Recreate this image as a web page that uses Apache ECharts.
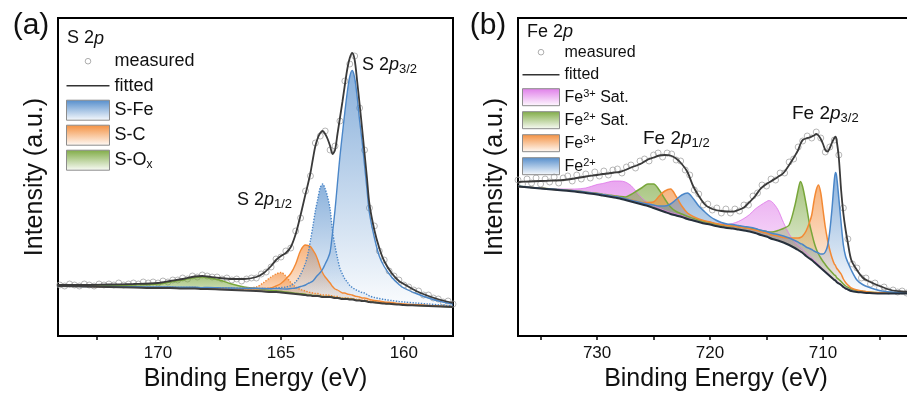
<!DOCTYPE html>
<html><head><meta charset="utf-8">
<script src="https://cdn.jsdelivr.net/npm/echarts@6/dist/echarts.min.js"></script>
<style>html,body{margin:0;padding:0;background:#fff}#c{width:907px;height:396px}</style>
</head><body><div id="c"></div>
<script>
// ---------------- Panel (a): S 2p ----------------
const energyA = [174.1,173,172,171,170,169.5,169,168.5,168.2,168,167.5,167,166.5,166,165.7,165.4,165.2,165,164.8,164.6,164.4,164.2,164,163.9,163.8,163.7,163.6,163.5,163.4,163.3,163.2,163.1,163,162.9,162.8,162.7,162.6,162.5,162.4,162.3,162.2,162.1,162,161.9,161.8,161.7,161.6,161.5,161.4,161.2,161,160.8,160.5,160.2,160,159.5,159,158.5,158];
const backgroundA = [50,49.5,49,48.5,48,48,47.5,47.5,47,47,46.5,46,45.5,45,44.5,44,44,43.5,43,42.5,42,41.5,41,40.5,40.5,40,40,40,39.5,39,39,39,39,38.5,38,38,37.5,37,37,37,36.5,36.5,36,35.5,35.5,35,35,34.5,34,33.5,33,32.5,32,31.5,31,30.5,30,29.5,29];
const sFe32A = [0,0.3,0.5,0.7,1,1,1.2,1.3,1.4,1.5,1.7,2,2.3,2.7,3,3.3,3.5,3.7,4,5,6,8,10,12,13,15,18,21,24,28,33,38,45,65,88,115,142,165,187,207,223,229,222,204,180,160,136,112,89,65,47,37,27,20,17,12,8,5,3];
const sFe12A = [0,0,0.3,0.5,0.7,0.8,1,1.1,1.2,1.3,1.5,1.7,2,2.5,3,3.5,4,5,6,8,12,20,32,42,55,70,85,97,109,113,108,100,88,66,52,40,30,25,20,17,14,12,11,10,9,8.5,8,7,6,5,4.5,4,3.5,3,3,2.5,2,1.5,1];
const sC32A = [0,0.2,0.3,0.4,0.5,0.6,0.7,0.8,0.9,1,1.2,1.4,1.8,2.2,3,4,6,9,14,20,30,44,50,50,49,46,42,36,29,24,20,17,14,11,9,8,7,6,6,5,5,4.5,4,4,3.5,3,3,3,2.5,2,2,1.5,1.5,1,1,0.8,0.6,0.4,0.3];
const sC12A = [0,0.2,0.3,0.5,0.6,0.7,0.8,1,1,1.1,1.4,1.8,2.5,4,9,15,18,20,17,11,7,5,4,3.5,3,3,2.5,2.5,2,2,2,2,1.5,1.5,1.5,1.5,1,1,1,1,1,1,1,1,1,1,1,1,1,0.7,0.7,0.7,0.7,0.7,0.7,0.5,0.5,0.5,0.5];
const sOxA = [0.5,1,1.5,2.5,4,6,8.5,11,12,11.5,9.5,6,3.5,2.5,2,1.5,1.3,1.2,1,1,0.8,0.8,0.7,0.6,0.6,0.6,0.6,0.5,0.5,0.5,0.5,0.5,0.5,0.5,0.5,0.5,0.5,0.5,0.5,0.5,0.5,0.5,0.5,0.3,0.3,0.3,0.3,0.3,0.3,0.3,0.3,0.3,0.3,0.3,0.3,0.2,0.2,0.2,0.2];
const fittedA = [51,51,51.5,52,53,55,57,59.5,60,59.5,58,57,57,59,63,70,76,80,83,89,102,121,142,152,163,177,190,198,203,205,202,197,190,182,186,202,218,234,251,267,278,283,276,255,232,208,183,158,132,106,88,75,63,55,52,45,40,36,33];
const measuredEA = [174,173.8,173.6,173.4,173.2,173,172.8,172.6,172.4,172.2,172,171.8,171.6,171.4,171.2,171,170.8,170.6,170.4,170.2,170,169.8,169.6,169.4,169.2,169,168.8,168.6,168.4,168.2,168,167.8,167.6,167.4,167.2,167,166.8,166.6,166.4,166.2,166,165.8,165.6,165.4,165.2,165,164.8,164.6,164.4,164.2,164,163.8,163.6,163.4,163.2,163,162.8,162.6,162.4,162.2,162,161.8,161.6,161.4,161.2,161,160.8,160.6,160.4,160.2,160,159.8,159.6,159.4,159.2,159,158.8,158.6,158.4,158.2,158];
const measuredIA = [51,50,52,51,50,52,51,50,52,51,52,51,53,51,52,53,52,54,53,54,53,55,54,56,56,58,57,60,59,61,60,59,59,57,58,56,57,55,57,58,58,62,64,69,77,79,85,88,105,118,145,160,193,200,205,186,190,215,255,272,280,228,186,128,110,85,76,65,60,56,51,49,46,45,41,41,38,37,34,35,32];
const tickValuesA = [172.5,170,167.5,165,162.5,160];
const labelValuesA = [170,165,160];

// ---------------- Panel (b): Fe 2p ----------------
const energyB = [737,736,735,734,733,732,731,730,729.5,729,728.5,728,727.5,727,726.5,726,725.5,725,724.5,724,723.5,723,722.5,722,721.5,721,720.5,720,719.5,719,718.5,718,717.5,717,716.5,716,715.5,715,714.8,714.5,714,713.5,713,712.5,712.2,712,711.8,711.5,711.2,711,710.8,710.6,710.4,710.2,710,709.8,709.6,709.4,709.2,709,708.9,708.8,708.6,708.4,708.2,708,707.8,707.5,707,706.5,706,705,704,703,702,701,700];
const backgroundB = [149.5,148.5,147.5,146.5,145.5,144.5,143,141.5,140.5,139.5,138.5,137.5,136,134.5,133,131.5,130,128,126,124,122,120.5,119,117,115.5,114,112.5,111.5,110,109,108,107.5,106.5,105.5,104.5,103,101,99.5,98.5,97,95.5,93.5,91,88,86,84.5,83,80,77.5,76,74,72,70,68,66,64,62,60,58,56,55.5,54,52.5,51,49,47.5,46.5,45,44,43.5,43,42.5,42.5,42.5,42.5,42.5,42.5];
const fe3SatB = [0.2,0.3,0.5,0.8,1.5,2.5,5,10,12,14.5,16.5,17.5,18,16,11,6,3.5,2.5,2,1.5,1.5,1.5,1.5,1.5,1.5,2,2,2.5,2.5,3,3.5,5,8,12,17,24,30,35,37,37,31,20,11,6,4.5,4,3.5,3,2.5,2,2,1.8,1.6,1.4,1.2,1.1,1,1,0.9,0.8,0.8,0.8,0.7,0.7,0.6,0.6,0.5,0.5,0.4,0.4,0.3,0.3,0.2,0.2,0.1,0.1,0.1];
const fe2SatB = [0.2,0.3,0.4,0.5,0.7,0.8,1,1.2,1.3,1.5,1.8,2,3,7,12,17,22,24,20,13,7,4,3,2.5,2.2,2,2,2,2,2,2.2,2.5,2.8,3,3.5,4,4.5,5,5.5,7,10,14,20,42,60,70,66,52,35,27,20,15,12,10,8.5,7.5,6.5,6,5.5,5,5,4.5,4,3.5,3,2.5,2.2,2,1.5,1.2,1,0.7,0.5,0.4,0.3,0.2,0.2];
const fe3B = [0.1,0.2,0.3,0.3,0.4,0.5,0.6,0.7,0.8,0.9,1,1.1,1.3,1.5,1.8,2,3.5,6,14,21,25,19,11,6,4,3,2.8,2.5,2.5,2.5,2.5,2.5,2.6,2.7,2.8,3,3.2,3.5,3.7,4,4.5,5,7,10,12,14,17,25,36,45,61,74,81,75,60,45,34,26,20,16,15,14,12.5,11,8,6,4.5,3,2,1.5,1,0.7,0.5,0.4,0.3,0.2,0.2];
const fe2B = [0.2,0.3,0.3,0.4,0.5,0.6,0.7,0.8,0.9,1,1,1.1,1.2,1.3,1.4,1.5,2,3,4,6,10,16,22,26,22,16,12,8,6,4.5,4,4,4,4,4.2,4.5,4.7,5,5.2,5.5,6,6.5,7,7.5,7.8,8,8.5,9,10,10.5,11,12,13,14,16,20,28,45,70,100,108,106,85,62,42,32,27,21,12,8,6,3,1.5,1,0.5,0.3,0.2];
const fittedB = [154,154.5,155,155.3,156,157.5,159.5,161,162,162.5,163.5,164,166,168.5,170.5,173,176.5,178.5,180.5,181,180.5,177.5,172,164,150,140,132,128,126,125,124.5,124.3,126,128.5,134,140,147.7,152,153.5,155.5,159,163,171,180,186,192,196,197.5,198.5,199.5,200.5,202,200.5,197,192,186,184.5,188,193.5,198,199.3,196,178,146,122.7,106,93,76,66,58.5,55,50,46,44.5,44,43.5,43];
const measuredEB = [737,736.6,736.2,735.8,735.4,735,734.6,734.2,733.8,733.4,733,732.6,732.2,731.8,731.4,731,730.6,730.2,729.8,729.4,729,728.6,728.2,727.8,727.4,727,726.6,726.2,725.8,725.4,725,724.6,724.2,723.8,723.4,723,722.6,722.2,721.8,721.4,721,720.6,720.2,719.8,719.4,719,718.6,718.2,717.8,717.4,717,716.6,716.2,715.8,715.4,715,714.6,714.2,713.8,713.4,713,712.6,712.2,711.8,711.4,711,710.6,710.2,709.8,709.4,709,708.6,708.2,707.8,707.4,707,706.6,706.2,705.8,705.4,705,704.6,704.2,703.8,703.4,703,702.6,702.2,701.8,701.4,701,700.6,700.2];
const measuredIB = [156,152,157,153,158,152,157,154,159,153,158,160,155,161,157,162,158,164,160,165,161,166,167,163,169,171,168,175,177,175,181,183,179,183,182,176,175,166,161,146,142,131,132,126,128,123,127,123,127,125,131,131,140,143,151,150,157,156,163,163,174,177,189,195,200,198,204,198,184,189,196,181,128,97,72,68,58,58,52,53,48,49,45,46,44,45,43,44,43,44,42,43,42];
const tickValuesB = [735,730,725,720,715,710,705];
const labelValuesB = [730,720,710];

// ---------------- styling ----------------
const FONT = '"Liberation Sans", Arial, Helvetica, sans-serif';
const BLUE = [74,134,200], ORANGE = [243,137,52], GREEN = [120,166,58], MAGENTA = [222,118,232];
function rgba(c, a) { return 'rgba(' + c[0] + ',' + c[1] + ',' + c[2] + ',' + a + ')'; }
function grad(c, a0, a1) {
  return new echarts.graphic.LinearGradient(0, 0, 0, 1, [
    { offset: 0, color: rgba(c, a0) }, { offset: 1, color: rgba(c, a1) }]);
}
function pairs(xs, ys) { return xs.map(function (x, i) { return [x, ys[i]]; }); }
// [intensity, energy] rows so that the stacked dimension is the intensity (column 0)
function rowsYX(xs, ys) { return xs.map(function (x, i) { return [ys[i], x]; }); }
const SM = 0.3;

function component(g, id, xs, base, comp, name, c, dotted, lw) {
  return [
    { type: 'line', name: '_base_' + id, xAxisIndex: g, yAxisIndex: g, stack: id,
      encode: { x: 1, y: 0 }, dimensions: ['intensity', 'energy'],
      data: rowsYX(xs, base), symbol: 'none', smooth: SM, silent: true,
      lineStyle: { width: 0, opacity: 0 } },
    { type: 'line', name: name, xAxisIndex: g, yAxisIndex: g, stack: id,
      encode: { x: 1, y: 0 }, dimensions: ['intensity', 'energy'],
      data: rowsYX(xs, comp), symbol: 'none', smooth: SM, silent: true,
      itemStyle: { color: rgba(c, 1) },
      lineStyle: { color: rgba(c, 1), width: lw == null ? 1.4 : lw, type: dotted ? 'dotted' : 'solid' },
      areaStyle: { color: grad(c, 0.92, 0.04) } }
  ];
}

const series = [].concat(
  component(0, 'ox', energyA, backgroundA, sOxA, 'S-Ox', GREEN, false),
  component(0, 'c12', energyA, backgroundA, sC12A, 'S-C', ORANGE, true),
  component(0, 'c32', energyA, backgroundA, sC32A, 'S-C', ORANGE, false),
  component(0, 'fe12', energyA, backgroundA, sFe12A, 'S-Fe', BLUE, true),
  component(0, 'fe32', energyA, backgroundA, sFe32A, 'S-Fe', BLUE, false),
  [
    { type: 'line', name: 'background', xAxisIndex: 0, yAxisIndex: 0, data: pairs(energyA, backgroundA),
      symbol: 'none', smooth: SM, silent: true, lineStyle: { color: '#3f3f3f', width: 2 } },
    { type: 'scatter', name: 'measured', xAxisIndex: 0, yAxisIndex: 0, data: pairs(measuredEA, measuredIA),
      symbol: 'circle', symbolSize: 6, silent: true,
      itemStyle: { color: 'rgba(255,255,255,0)', borderColor: '#a5a5a5', borderWidth: 1 } },
    { type: 'line', name: 'fitted', xAxisIndex: 0, yAxisIndex: 0, data: pairs(energyA, fittedA),
      symbol: 'none', smooth: SM, silent: true, itemStyle: { color: '#3a3a3a' },
      lineStyle: { color: '#3a3a3a', width: 1.8 } }
  ],
  component(1, 'f3s', energyB, backgroundB, fe3SatB, 'Fe3+ Sat.', MAGENTA, false, 0.8),
  component(1, 'f2s', energyB, backgroundB, fe2SatB, 'Fe2+ Sat.', GREEN, false, 1.5),
  component(1, 'f3', energyB, backgroundB, fe3B, 'Fe3+', ORANGE, false, 1.5),
  component(1, 'f2', energyB, backgroundB, fe2B, 'Fe2+', BLUE, false, 1.5),
  [
    { type: 'line', name: 'backgroundB', xAxisIndex: 1, yAxisIndex: 1, data: pairs(energyB, backgroundB),
      symbol: 'none', smooth: SM, silent: true, lineStyle: { color: '#26303c', width: 2 } },
    { type: 'scatter', name: 'measured', xAxisIndex: 1, yAxisIndex: 1, data: pairs(measuredEB, measuredIB),
      symbol: 'circle', symbolSize: 6, silent: true,
      itemStyle: { color: 'rgba(255,255,255,0)', borderColor: '#a5a5a5', borderWidth: 1 } },
    { type: 'line', name: 'fitted', xAxisIndex: 1, yAxisIndex: 1, data: pairs(energyB, fittedB),
      symbol: 'none', smooth: SM, silent: true, itemStyle: { color: '#3a3a3a' },
      lineStyle: { color: '#3a3a3a', width: 1.8 } }
  ]
);

function xAxisCfg(g, min, max, ticks, labels, namePad) {
  return {
    gridIndex: g, type: 'value', min: min, max: max, inverse: true,
    axisLine: { show: true, onZero: false, lineStyle: { color: '#000', width: 2 } },
    axisTick: { show: true, inside: false, length: 4, customValues: ticks, lineStyle: { color: '#000', width: 1.5 } },
    axisLabel: { customValues: labels, fontSize: 17, fontFamily: FONT, color: '#111', margin: 9 },
    splitLine: { show: false },
    name: 'Binding Energy (eV)', nameLocation: 'middle', nameGap: 28,
    nameTextStyle: { fontSize: 25, fontFamily: FONT, color: '#111', padding: namePad }
  };
}
function yAxisCfg(g) {
  return {
    gridIndex: g, type: 'value', min: 0, max: 318,
    axisLine: { show: false }, axisTick: { show: false }, axisLabel: { show: false }, splitLine: { show: false },
    name: 'Intensity (a.u.)', nameLocation: 'middle', nameGap: 10,
    nameTextStyle: { fontSize: 25, fontFamily: FONT, color: '#111' }
  };
}

function circleIcon(w, h, r) {
  const cx = w / 2, cy = h / 2;
  return 'path://M0,0M' + w + ',' + h + 'M' + (cx - r) + ',' + cy +
    'a' + r + ',' + r + ' 0 1,0 ' + (2 * r) + ',0a' + r + ',' + r + ' 0 1,0 ' + (-2 * r) + ',0Z';
}
function lineIcon(w, h, t) {
  const y0 = h / 2 - t / 2, y1 = h / 2 + t / 2;
  return 'path://M0,0M' + w + ',' + h + 'M0,' + y0 + 'L' + w + ',' + y0 + 'L' + w + ',' + y1 + 'L0,' + y1 + 'Z';
}
const legendLabels = {
  'S-Ox': 'S-O{sub|x}', 'Fe3+ Sat.': 'Fe{sup|3+} Sat.', 'Fe2+ Sat.': 'Fe{sup|2+} Sat.',
  'Fe3+': 'Fe{sup|3+}', 'Fe2+': 'Fe{sup|2+}'
};
function rectItem(name, c) {
  return { name: name, icon: 'rect', itemStyle: { color: grad(c, 0.95, 0.03), borderColor: '#8c8c8c', borderWidth: 1 } };
}

const chart = echarts.init(document.getElementById('c'), null, { renderer: 'canvas' });
chart.setOption({
  animation: false,
  backgroundColor: '#fff',
  grid: [
    { left: 58, top: 18, width: 395, height: 318, show: true, borderColor: '#000', borderWidth: 2,
      backgroundColor: 'rgba(0,0,0,0)', containLabel: false, outerBoundsMode: 'none' },
    { left: 518, top: 18, width: 418, height: 318, show: true, borderColor: '#000', borderWidth: 2,
      backgroundColor: 'rgba(0,0,0,0)', containLabel: false, outerBoundsMode: 'none' }
  ],
  xAxis: [
    xAxisCfg(0, 158, 174.07, tickValuesA, labelValuesA, [0, 0, 0, 0]),
    xAxisCfg(1, 700, 737, tickValuesB, labelValuesB, [0, 22, 0, 0])
  ],
  yAxis: [yAxisCfg(0), yAxisCfg(1)],
  legend: [
    { left: 66, top: 50.7, orient: 'vertical', itemWidth: 43, itemHeight: 20, itemGap: 4, selectedMode: false,
      padding: 0,
      textStyle: { fontSize: 18, fontFamily: FONT, color: '#111', lineHeight: 20,
        rich: { sub: { fontSize: 12, fontFamily: FONT, color: '#111', lineHeight: 6, verticalAlign: 'bottom' } } },
      formatter: function (n) { return legendLabels[n] || n; },
      data: [
        { name: 'measured', icon: circleIcon(43, 20, 2.8), itemStyle: { color: 'rgba(255,255,255,0)', borderColor: '#999', borderWidth: 1 } },
        { name: 'fitted', icon: lineIcon(43, 20, 1.6), itemStyle: { color: '#333', borderWidth: 0 } },
        rectItem('S-Fe', BLUE), rectItem('S-C', ORANGE), rectItem('S-Ox', GREEN)
      ] },
    { left: 522, top: 43.2, orient: 'vertical', itemWidth: 37, itemHeight: 17, itemGap: 5, selectedMode: false,
      padding: 0,
      textStyle: { fontSize: 16, fontFamily: FONT, color: '#111', lineHeight: 17,
        rich: { sup: { fontSize: 11, fontFamily: FONT, color: '#111', lineHeight: 9, verticalAlign: 'top' } } },
      formatter: function (n) { return legendLabels[n] || n; },
      data: [
        { name: 'measured', icon: circleIcon(37, 17, 2.8), itemStyle: { color: 'rgba(255,255,255,0)', borderColor: '#999', borderWidth: 1 } },
        { name: 'fitted', icon: lineIcon(37, 17, 1.6), itemStyle: { color: '#333', borderWidth: 0 } },
        rectItem('Fe3+ Sat.', MAGENTA), rectItem('Fe2+ Sat.', GREEN), rectItem('Fe3+', ORANGE), rectItem('Fe2+', BLUE)
      ] }
  ],
  graphic: [
    { type: 'text', x: 31, y: 25.5, style: { text: '(a)', fontSize: 30, fontFamily: FONT, fill: '#111', align: 'center', verticalAlign: 'middle' } },
    { type: 'text', x: 488, y: 25.5, style: { text: '(b)', fontSize: 30, fontFamily: FONT, fill: '#111', align: 'center', verticalAlign: 'middle' } },
    { type: 'text', x: 67, y: 38.5, style: { text: 'S 2{i|p}', fontSize: 18, fontFamily: FONT, fill: '#111', lineHeight: 22,
      align: 'left', verticalAlign: 'middle',
      rich: { i: { fontSize: 18, fontFamily: FONT, fontStyle: 'italic', fill: '#111', lineHeight: 22 } } } },
    { type: 'text', x: 527, y: 32, style: { text: 'Fe 2{i|p}', fontSize: 18, fontFamily: FONT, fill: '#111', lineHeight: 22,
      align: 'left', verticalAlign: 'middle',
      rich: { i: { fontSize: 18, fontFamily: FONT, fontStyle: 'italic', fill: '#111', lineHeight: 22 } } } },
    { type: 'text', x: 362, y: 65, style: { text: 'S 2{i|p}{sub|3/2}', fontSize: 18, fontFamily: FONT, fill: '#111', lineHeight: 22,
      align: 'left', verticalAlign: 'middle',
      rich: { i: { fontSize: 18, fontFamily: FONT, fontStyle: 'italic', fill: '#111', lineHeight: 22 },
              sub: { fontSize: 13, fontFamily: FONT, fill: '#111', lineHeight: 12, verticalAlign: 'bottom' } } } },
    { type: 'text', x: 237, y: 200, style: { text: 'S 2{i|p}{sub|1/2}', fontSize: 18, fontFamily: FONT, fill: '#111', lineHeight: 22,
      align: 'left', verticalAlign: 'middle',
      rich: { i: { fontSize: 18, fontFamily: FONT, fontStyle: 'italic', fill: '#111', lineHeight: 22 },
              sub: { fontSize: 13, fontFamily: FONT, fill: '#111', lineHeight: 12, verticalAlign: 'bottom' } } } },
    { type: 'text', x: 643, y: 138.5, style: { text: 'Fe 2{i|p}{sub|1/2}', fontSize: 19, fontFamily: FONT, fill: '#111', lineHeight: 22,
      align: 'left', verticalAlign: 'middle',
      rich: { i: { fontSize: 19, fontFamily: FONT, fontStyle: 'italic', fill: '#111', lineHeight: 22 },
              sub: { fontSize: 13, fontFamily: FONT, fill: '#111', lineHeight: 12, verticalAlign: 'bottom' } } } },
    { type: 'text', x: 792, y: 114, style: { text: 'Fe 2{i|p}{sub|3/2}', fontSize: 19, fontFamily: FONT, fill: '#111', lineHeight: 22,
      align: 'left', verticalAlign: 'middle',
      rich: { i: { fontSize: 19, fontFamily: FONT, fontStyle: 'italic', fill: '#111', lineHeight: 22 },
              sub: { fontSize: 13, fontFamily: FONT, fill: '#111', lineHeight: 12, verticalAlign: 'bottom' } } } }
  ],
  series: series
});
</script></body></html>
